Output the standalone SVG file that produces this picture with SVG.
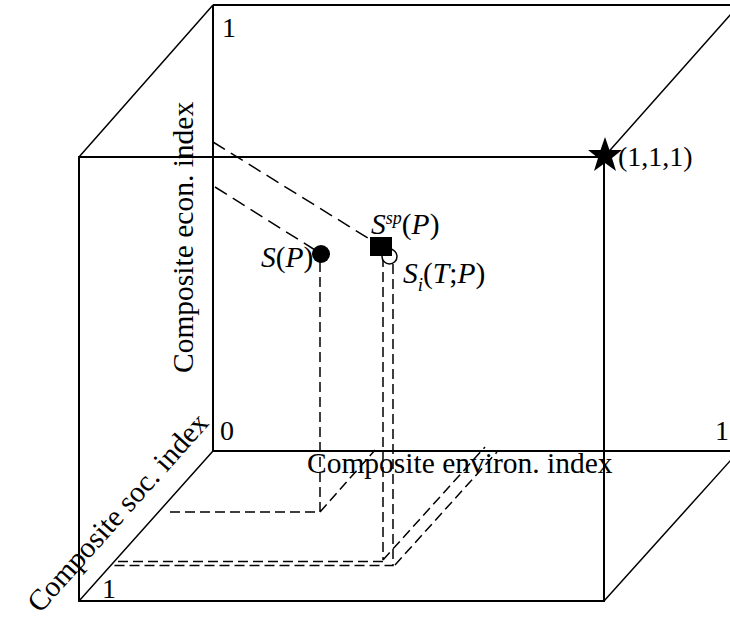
<svg xmlns="http://www.w3.org/2000/svg" width="730" height="626" viewBox="0 0 730 626">
<style>
.frame{stroke:#000;stroke-width:2;fill:none}
.edge{stroke:#000;stroke-width:1.5;fill:none}
.dash{stroke:#000;stroke-width:1.5;fill:none;stroke-dasharray:10,5}
.dashl{stroke:#000;stroke-width:1.5;fill:none;stroke-dasharray:14,7}
text{font-family:"Liberation Serif","Times New Roman",serif;fill:#000}
.lab{font-size:28px}
.pt{font-size:29.5px}
.ax{font-size:29.5px}
.it{font-style:italic}
</style>
<rect width="730" height="626" fill="#fff"/>
<g id="cube">
<path class="frame" d="M213,5 H740 M213,5 V451 H740"/>
<path class="frame" d="M79,157 H604 V601 H79 Z"/>
<path class="edge" d="M79,157 L213,5 M79,601 L213,451 M604,157 L739,5 M604,601 L739,451"/>
</g>
<g id="connectors">
<path class="dashl" d="M213,142 L371,240"/>
<path class="dashl" d="M215,187 L315,250"/>
<path class="dash" d="M320,262 V512 H165 M320,512 L375,450"/>
<path class="dash" d="M383,257 V560 M383,560 L485,447 M383,561.5 H113"/>
<path class="dash" d="M393,264 V565.5 H113 M395,565 L497,452"/>
</g>
<g id="axis-labels">
<text class="lab" x="222" y="37">1</text>
<text class="lab" x="220" y="440">0</text>
<text class="lab" x="102" y="598">1</text>
<text class="lab" x="715" y="440">1</text>
<text class="ax" x="307" y="473">Composite environ. index</text>
<text class="ax" font-size="31" transform="translate(193,373) rotate(-90)">Composite econ. index</text>
<text class="ax" font-size="28" transform="translate(40,614) rotate(-48.2)">Composite soc. index</text>
</g>
<g id="node-SP">
<circle cx="321" cy="254" r="9" fill="#000"/>
<text class="pt" x="261" y="267"><tspan class="it">S</tspan>(<tspan class="it">P</tspan>)</text>
</g>
<g id="node-SiTP">
<circle cx="389.5" cy="256.5" r="7.5" fill="#fff" stroke="#000" stroke-width="1.5"/>
<text class="pt" x="403" y="283"><tspan class="it">S</tspan><tspan class="it" font-size="19" dy="8">i</tspan><tspan dy="-8">(</tspan><tspan class="it">T</tspan>;<tspan class="it">P</tspan>)</text>
</g>
<g id="node-SspP">
<rect x="370" y="237" width="22" height="19" fill="#000"/>
<text class="pt" x="371" y="234"><tspan class="it">S</tspan><tspan class="it" font-size="18" dy="-10">sp</tspan><tspan dy="10">(</tspan><tspan class="it">P</tspan>)</text>
</g>
<g id="node-111">
<polygon fill="#000" points="605,137 609.5,150 622,150 612,158 616,171 605,163 594,171 598,158 588,150 600.5,150"/>
<text class="lab" font-size="30" x="618" y="166">(1,1,1)</text>
</g>
</svg>
